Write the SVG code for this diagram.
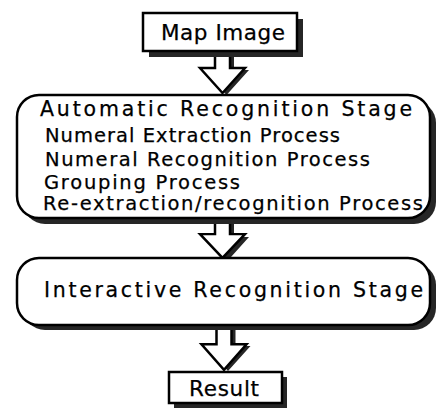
<svg xmlns="http://www.w3.org/2000/svg" width="442" height="413" viewBox="0 0 442 413">
  <style>
    .box { fill: #ffffff; stroke: #000000; stroke-width: 2.5; }
    .shadow { fill: #262626; }
    .arrow { fill: #ffffff; stroke: #000000; stroke-width: 2.5; stroke-linejoin: miter; }
    text { font-family: "DejaVu Sans", "Liberation Sans", Arial, sans-serif; fill: #000000; stroke: #000000; stroke-width: 0.25; }
    .title { font-size: 20.5px; }
    .item { font-size: 19.5px; }
    .label { font-size: 21.5px; }
  </style>
  <defs>
    <polygon id="blockArrow" points="-7.5,0 7.5,0 7.5,17 22.5,17 0,42 -22.5,17 -7.5,17"/>
  </defs>

  <!-- connectors: hollow block arrows -->
  <g id="connectors">
    <g transform="translate(222.5,51)">
      <use href="#blockArrow" class="shadow" transform="translate(4,2)"/>
      <use href="#blockArrow" class="arrow"/>
    </g>
    <g transform="translate(222.5,218)">
      <use href="#blockArrow" class="shadow" transform="translate(4,2)"/>
      <use href="#blockArrow" class="arrow" transform="scale(1,0.95)"/>
    </g>
    <g transform="translate(224,327)">
      <use href="#blockArrow" class="shadow" transform="translate(4,2)"/>
      <use href="#blockArrow" class="arrow" transform="scale(1,1.02)"/>
    </g>
  </g>

  <!-- input node -->
  <g id="map-image">
    <rect class="shadow" x="149" y="19" width="154" height="38"/>
    <rect class="box" x="143" y="13" width="154" height="38"/>
    <text class="label" x="161" y="40" textLength="124" lengthAdjust="spacing">Map Image</text>
  </g>

  <!-- automatic stage -->
  <g id="automatic-stage">
    <rect class="shadow" x="23" y="101" width="413" height="123" rx="22" ry="22"/>
    <rect class="box" x="17" y="95" width="413" height="123" rx="22" ry="22"/>
    <text class="title" x="40" y="116" textLength="372" lengthAdjust="spacing">Automatic Recognition Stage</text>
    <text class="item" x="45" y="142" textLength="295" lengthAdjust="spacing">Numeral Extraction Process</text>
    <text class="item" x="45" y="166" textLength="325" lengthAdjust="spacing">Numeral Recognition Process</text>
    <text class="item" x="44" y="189" textLength="196" lengthAdjust="spacing">Grouping Process</text>
    <text class="item" x="43" y="210" textLength="380" lengthAdjust="spacing">Re-extraction/recognition Process</text>
  </g>

  <!-- interactive stage -->
  <g id="interactive-stage">
    <rect class="shadow" x="23" y="263" width="413" height="67" rx="22" ry="22"/>
    <rect class="box" x="17" y="258" width="413" height="67" rx="22" ry="22"/>
    <text class="title" x="44" y="297" textLength="379" lengthAdjust="spacing">Interactive Recognition Stage</text>
  </g>

  <!-- output node -->
  <g id="result">
    <rect class="shadow" x="174" y="377" width="113" height="31"/>
    <rect class="box" x="169" y="372" width="113" height="31"/>
    <text class="label" x="189" y="396" textLength="70" lengthAdjust="spacing">Result</text>
  </g>
</svg>
